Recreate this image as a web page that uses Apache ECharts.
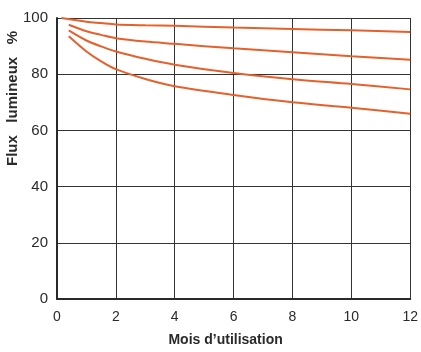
<!DOCTYPE html>
<html>
<head>
<meta charset="utf-8">
<script src="https://cdn.jsdelivr.net/npm/echarts@6/dist/echarts.min.js"></script>
<style>
  html, body { margin: 0; padding: 0; background: #fff; }
  #chart { width: 421px; height: 352px; }
</style>
</head>
<body>
<div id="chart"></div>
<script>
// Luminous flux (%) against months of use, four lamp types
const monthsA = [0.15, 1, 1.5, 2, 3, 4, 6, 8, 10, 12];
const months = [0.4, 1, 1.5, 2, 3, 4, 6, 8, 10, 12];
const fluxA = [100.0, 98.7, 98.2, 97.7, 97.4, 97.2, 96.6, 96.1, 95.6, 95.0];
const fluxB = [97.6, 95.3, 94.0, 92.8, 91.6, 90.8, 89.2, 87.8, 86.4, 85.1];
const fluxC = [95.6, 92.0, 89.9, 88.1, 85.5, 83.4, 80.4, 78.2, 76.5, 74.6];
const fluxD = [93.5, 88.1, 84.6, 81.8, 78.3, 75.7, 72.6, 70.0, 68.1, 65.9];
const xTicks = [0, 2, 4, 6, 8, 10, 12];
const yTicks = [0, 20, 40, 60, 80, 100];

const curveColor = '#e6602b';
const inkColor = '#2a2a2a';

function curve(xs, ys) {
  return {
    type: 'line',
    data: xs.map((m, i) => [m, ys[i]]),
    smooth: 0.3,
    symbol: 'none',
    lineStyle: { color: curveColor, width: 2 }
  };
}

const chart = echarts.init(document.getElementById('chart'));
chart.setOption({
  animation: false,
  backgroundColor: '#fff',
  grid: { left: 57, right: 7, top: 18, bottom: 45 },
  xAxis: {
    type: 'value',
    min: xTicks[0],
    max: xTicks[xTicks.length - 1],
    interval: 2,
    name: 'Mois d\u2019utilisation',
    nameLocation: 'middle',
    nameGap: 34,
    nameTextStyle: {
      color: inkColor, fontFamily: 'Liberation Sans', fontWeight: 'bold', fontSize: 14,
      padding: [0, 16, 0, 0]
    },
    axisLine: { show: true, lineStyle: { color: inkColor, width: 2 } },
    axisTick: { show: false },
    axisLabel: { color: inkColor, fontFamily: 'Liberation Sans', fontSize: 14, margin: 11 },
    splitLine: { show: true, lineStyle: { color: '#333', width: 1 } }
  },
  yAxis: {
    type: 'value',
    min: yTicks[0],
    max: yTicks[yTicks.length - 1],
    interval: 20,
    axisLine: { show: true, lineStyle: { color: inkColor, width: 2 } },
    axisTick: { show: false },
    axisLabel: {
      color: inkColor, fontFamily: 'Liberation Sans', fontSize: 15, margin: 9,
      padding: [0, 0, 12, 0]
    },
    splitLine: { show: true, lineStyle: { color: '#333', width: 1 } }
  },
  graphic: [{
    type: 'text',
    left: 5,
    top: 31,
    rotation: Math.PI / 2,
    style: {
      text: 'Flux   lumineux   %',
      font: 'bold 15px "Liberation Sans"',
      fill: inkColor
    }
  }],
  series: [
    curve(monthsA, fluxA),
    curve(months, fluxB),
    curve(months, fluxC),
    curve(months, fluxD)
  ]
});
</script>
</body>
</html>
